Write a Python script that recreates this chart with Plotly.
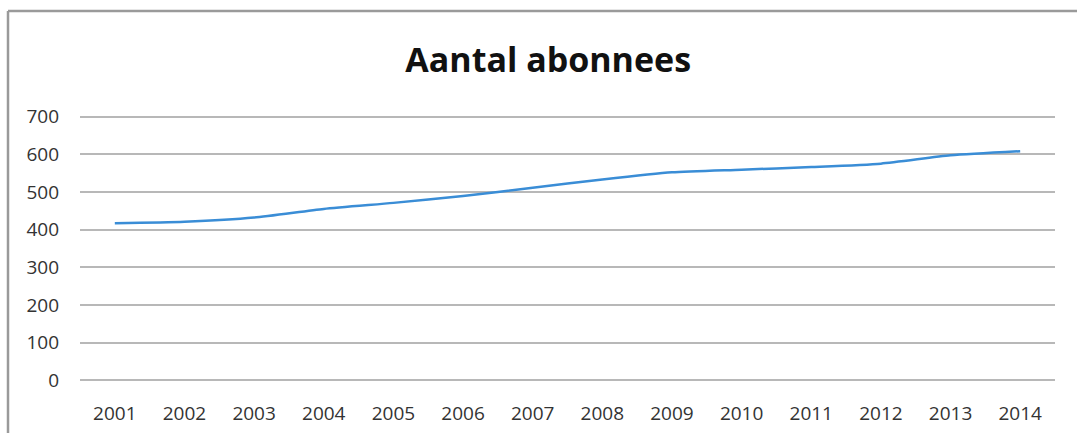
import plotly.graph_objects as go

years = ["2001", "2002", "2003", "2004", "2005", "2006", "2007",
         "2008", "2009", "2010", "2011", "2012", "2013", "2014"]
subscribers = [417, 421, 432, 455, 471, 489, 511, 533, 552, 559, 566, 575, 597, 608]
y_ticks = [0, 100, 200, 300, 400, 500, 600, 700]

fig = go.Figure()
fig.add_trace(go.Scatter(
    x=years, y=subscribers, mode="lines",
    line=dict(color="#3a8dd6", width=2.5, shape="spline", smoothing=0.6),
    showlegend=False, hoverinfo="x+y",
))

T, B, L, R = 114.5, 50.5, 80, 22
ph = 433 - T - B
pw = 1077 - L - R
fig.update_layout(
    width=1077, height=433,
    margin=dict(l=L, r=R, t=T, b=B, autoexpand=False),
    paper_bgcolor="white", plot_bgcolor="white",
    title=dict(text="<b>Aantal abonnees</b>", x=0.509, xanchor="center",
               y=1 - 60 / 433, yanchor="middle",
               font=dict(family="Open Sans", size=34, color="#111111")),
    font=dict(family="Open Sans", color="#333333"),
    xaxis=dict(type="category", range=[-0.5, 13.5], showgrid=False,
               showline=False, zeroline=False, ticks="",
               ticklabelstandoff=18,
               tickfont=dict(size=19, color="#333333")),
    yaxis=dict(range=[-4, 704], tickvals=y_ticks, showgrid=True,
               gridcolor="#b8b8b8", gridwidth=2, zeroline=True,
               zerolinecolor="#b8b8b8", zerolinewidth=2,
               showline=False, ticks="", ticklabelstandoff=20,
               tickfont=dict(size=19, color="#333333")),
    shapes=[
        dict(type="line", xref="paper", yref="paper",
             x0=-(L - 8) / pw, x1=1.1, y0=(433 - B - 10) / ph, y1=(433 - B - 10) / ph,
             line=dict(color="#9a9a9a", width=2.5)),
        dict(type="line", xref="paper", yref="paper",
             x0=-(L - 8) / pw, x1=-(L - 8) / pw, y0=(433 - B - 10) / ph, y1=-0.3,
             line=dict(color="#9a9a9a", width=2.5)),
    ],
)

fig.write_html("out.html", config={"displayModeBar": False},
               post_script="document.body.style.margin='0px';document.body.style.overflow='hidden';")
